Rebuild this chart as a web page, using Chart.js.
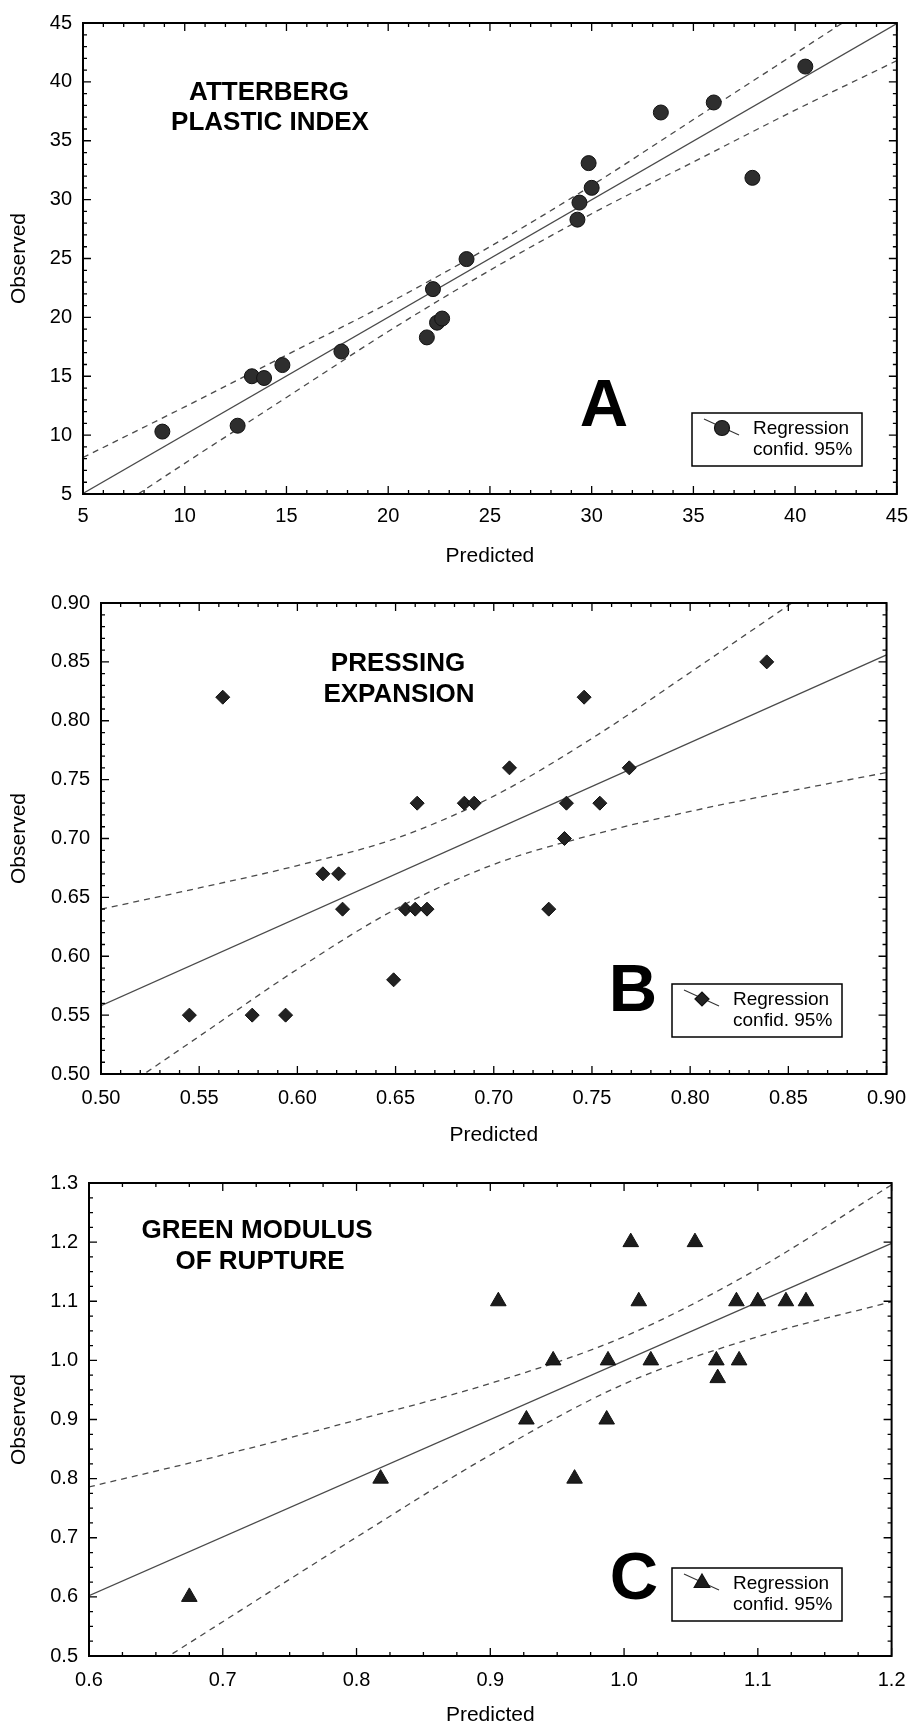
<!DOCTYPE html>
<html>
<head>
<meta charset="utf-8">
<script src="https://cdn.jsdelivr.net/npm/chart.js@4/dist/chart.umd.min.js"></script>
<style>
  body { margin: 0; background: #fff; width: 918px; height: 1728px; position: relative; overflow: hidden; }
  canvas { position: absolute; left: 0; }
</style>
</head>
<body>
<canvas id="chartA" width="918" height="575" style="top:0px"></canvas>
<canvas id="chartB" width="918" height="575" style="top:580px"></canvas>
<canvas id="chartC" width="918" height="568" style="top:1160px"></canvas>
<script>
// A: atterberg plastic index
var atterPred = [8.9, 12.6, 13.3, 13.9, 14.8, 17.7, 21.9, 22.2, 22.4, 22.65, 23.85, 29.3, 29.4, 29.85, 30.0, 33.4, 36.0, 37.9, 40.5];
var atterObs  = [10.3, 10.8, 15.0, 14.85, 15.95, 17.1, 18.3, 22.4, 19.55, 19.9, 24.95, 28.3, 29.75, 33.1, 31.0, 37.4, 38.25, 31.85, 41.3];
var atterFitX = [5, 45];
var atterFitY = [5.05, 44.95];
var atterBandX = [5, 10, 15, 20, 25, 30, 35, 40, 45];
var atterUpper = [8.1, 12.4, 16.8, 21.2, 26.0, 31.2, 36.8, 42.4, 48.0];
var atterLower = [1.9, 7.6, 13.2, 18.8, 24.0, 28.8, 33.2, 37.6, 41.8];
var atterTitle = ['ATTERBERG', 'PLASTIC INDEX'];

// B: pressing expansion
var pressPred = [0.545, 0.562, 0.577, 0.594, 0.613, 0.621, 0.623, 0.649, 0.655, 0.660, 0.661, 0.666, 0.685, 0.690, 0.708, 0.728, 0.736, 0.737, 0.746, 0.754, 0.769, 0.839];
var pressObs  = [0.55, 0.82, 0.55, 0.55, 0.67, 0.67, 0.64, 0.58, 0.64, 0.64, 0.73, 0.64, 0.73, 0.73, 0.76, 0.64, 0.70, 0.73, 0.82, 0.73, 0.76, 0.85];
var pressFitX = [0.50, 0.90];
var pressFitY = [0.558, 0.856];
var pressBandX = [0.50, 0.55, 0.60, 0.65, 0.70, 0.75, 0.80, 0.85, 0.90];
var pressUpper = [0.640, 0.658, 0.677, 0.700, 0.736, 0.785, 0.841, 0.898, 0.956];
var pressLower = [0.475, 0.532, 0.589, 0.640, 0.678, 0.703, 0.723, 0.740, 0.756];
var pressTitle = ['PRESSING', 'EXPANSION'];

// C: green modulus of rupture
var greenPred = [0.675, 0.818, 0.906, 0.927, 0.947, 0.963, 0.987, 0.988, 1.005, 1.011, 1.020, 1.053, 1.069, 1.070, 1.084, 1.086, 1.100, 1.121, 1.136];
var greenObs  = [0.60, 0.80, 1.10, 0.90, 1.00, 0.80, 0.90, 1.00, 1.20, 1.10, 1.00, 1.20, 1.00, 0.97, 1.10, 1.00, 1.10, 1.10, 1.10];
var greenFitX = [0.6, 1.2];
var greenFitY = [0.602, 1.198];
var greenBandX = [0.6, 0.7, 0.8, 0.9, 1.0, 1.1, 1.2];
var greenUpper = [0.786, 0.840, 0.899, 0.961, 1.040, 1.155, 1.297];
var greenLower = [0.414, 0.558, 0.701, 0.840, 0.960, 1.040, 1.099];
var greenTitle = ['GREEN MODULUS', 'OF RUPTURE'];

var legendText = ['Regression', 'confid. 95%'];

Chart.defaults.font.family = '"Liberation Sans", Arial, Helvetica, sans-serif';
Chart.defaults.color = '#000';

function pairs(xs, ys) {
  return xs.map(function (v, i) { return { x: v, y: ys[i] }; });
}

// frame with inward ticks on all four sides + text notes + legend box
var framePlugin = {
  id: 'frame',
  afterDatasetsDraw: function (chart, args, o) {
    var ctx = chart.ctx, a = chart.chartArea, sx = chart.scales.x, sy = chart.scales.y;
    var i, n, every, p, len;
    ctx.save();
    ctx.strokeStyle = '#000';
    ctx.lineWidth = 1.3;
    ctx.beginPath();
    n = Math.round((sx.max - sx.min) / o.xMinor);
    every = Math.round(o.xMajor / o.xMinor);
    for (i = 0; i <= n; i++) {
      p = sx.getPixelForValue(sx.min + i * o.xMinor);
      len = i % every === 0 ? 8 : 4;
      ctx.moveTo(p, a.bottom); ctx.lineTo(p, a.bottom - len);
      ctx.moveTo(p, a.top); ctx.lineTo(p, a.top + len);
    }
    n = Math.round((sy.max - sy.min) / o.yMinor);
    every = Math.round(o.yMajor / o.yMinor);
    for (i = 0; i <= n; i++) {
      p = sy.getPixelForValue(sy.min + i * o.yMinor);
      len = i % every === 0 ? 8 : 4;
      ctx.moveTo(a.left, p); ctx.lineTo(a.left + len, p);
      ctx.moveTo(a.right, p); ctx.lineTo(a.right - len, p);
    }
    ctx.stroke();
    ctx.lineWidth = 2;
    ctx.strokeRect(a.left, a.top, a.width, a.height);

    // title inside plot
    ctx.fillStyle = '#000';
    ctx.textAlign = 'center';
    ctx.textBaseline = 'middle';
    ctx.font = 'bold 26px "Liberation Sans", Arial, sans-serif';
    o.title.forEach(function (t, k) { ctx.fillText(t, o.titlePos[k][0], o.titlePos[k][1]); });

    // panel letter
    ctx.font = 'bold 67px "Liberation Sans", Arial, sans-serif';
    ctx.fillText(o.letter, o.letterPos[0], o.letterPos[1]);

    // legend
    var b = o.legendBox;
    ctx.fillStyle = '#fff';
    ctx.fillRect(b[0], b[1], b[2], b[3]);
    ctx.lineWidth = 1.5;
    ctx.strokeStyle = '#000';
    ctx.strokeRect(b[0], b[1], b[2], b[3]);
    var cx = b[0] + 30, cy = b[1] + 15;
    ctx.strokeStyle = '#333';
    ctx.lineWidth = 1.2;
    ctx.beginPath();
    ctx.moveTo(cx - 18, cy - 9);
    ctx.lineTo(cx + 17, cy + 7);
    ctx.stroke();
    ctx.fillStyle = o.pointColor;
    ctx.strokeStyle = '#111';
    Chart.helpers.drawPoint(ctx, { pointStyle: o.pointStyle, radius: o.pointRadius, borderWidth: 1, rotation: 0 }, cx, cy);
    ctx.fillStyle = '#000';
    ctx.textAlign = 'left';
    ctx.font = '19px "Liberation Sans", Arial, sans-serif';
    ctx.fillText(legendText[0], b[0] + 61, b[1] + 16);
    ctx.fillText(legendText[1], b[0] + 61, b[1] + 37);
    ctx.restore();
  }
};

function makeChart(id, p) {
  var lineStyle = { showLine: true, pointRadius: 0, borderColor: '#4a4a4a', borderWidth: 1.3, fill: false };
  return new Chart(document.getElementById(id), {
    type: 'scatter',
    data: {
      datasets: [
        {
          data: pairs(p.pred, p.obs),
          pointStyle: p.pointStyle,
          pointRadius: p.pointRadius,
          backgroundColor: p.pointColor,
          borderColor: '#111',
          borderWidth: 1,
          order: 0
        },
        Object.assign({ data: pairs(p.fitX, p.fitY), order: 1 }, lineStyle),
        Object.assign({ data: pairs(p.bandX, p.upper), borderDash: [6, 5], cubicInterpolationMode: 'monotone', order: 2 }, lineStyle),
        Object.assign({ data: pairs(p.bandX, p.lower), borderDash: [6, 5], cubicInterpolationMode: 'monotone', order: 3 }, lineStyle)
      ]
    },
    options: {
      responsive: false,
      animation: false,
      devicePixelRatio: 1,
      layout: { padding: { top: p.padTop, right: p.padRight, bottom: 0, left: 0 } },
      plugins: {
        legend: { display: false },
        tooltip: { enabled: false },
        frame: {
          xMajor: p.xStep, xMinor: p.xMinor, yMajor: p.yStep, yMinor: p.yMinor,
          title: p.title, titlePos: p.titlePos, letter: p.letter, letterPos: p.letterPos,
          legendBox: p.legendBox, pointStyle: p.pointStyle, pointRadius: p.pointRadius, pointColor: p.pointColor
        }
      },
      scales: {
        x: {
          type: 'linear', min: p.xMin, max: p.xMax,
          grid: { display: false, drawTicks: false },
          border: { display: false },
          ticks: {
            stepSize: p.xStep, padding: p.xTickPad, maxRotation: 0, autoSkip: false,
            font: { size: 20 },
            callback: function (v) { return Number(v).toFixed(p.xDec); }
          },
          title: { display: true, text: 'Predicted', font: { size: 21 }, padding: { top: 0, bottom: p.xTitlePad } },
          afterFit: function (s) { s.height = p.xAxisH; }
        },
        y: {
          type: 'linear', min: p.yMin, max: p.yMax,
          grid: { display: false, drawTicks: false },
          border: { display: false },
          ticks: {
            stepSize: p.yStep, padding: 11, autoSkip: false,
            font: { size: 20 },
            callback: function (v) { return Number(v).toFixed(p.yDec); }
          },
          title: { display: true, text: 'Observed', font: { size: 21 }, padding: { top: 7, bottom: 0 } },
          afterFit: function (s) { s.width = p.yAxisW; }
        }
      }
    },
    plugins: [framePlugin]
  });
}

makeChart('chartA', {
  pred: atterPred, obs: atterObs, fitX: atterFitX, fitY: atterFitY,
  bandX: atterBandX, upper: atterUpper, lower: atterLower,
  pointStyle: 'circle', pointRadius: 7.5, pointColor: '#2e2e2e',
  xMin: 5, xMax: 45, xStep: 5, xMinor: 1, xDec: 0,
  yMin: 5, yMax: 45, yStep: 5, yMinor: 1, yDec: 0,
  padTop: 19, padRight: 16, yAxisW: 83, xAxisH: 81, xTickPad: 10, xTitlePad: 6.4,
  title: atterTitle, titlePos: [[269, 93], [270, 123]],
  letter: 'A', letterPos: [604, 408],
  legendBox: [692, 413, 170, 53]
});

makeChart('chartB', {
  pred: pressPred, obs: pressObs, fitX: pressFitX, fitY: pressFitY,
  bandX: pressBandX, upper: pressUpper, lower: pressLower,
  pointStyle: 'rectRot', pointRadius: 7, pointColor: '#222',
  xMin: 0.5, xMax: 0.9, xStep: 0.05, xMinor: 0.01, xDec: 2,
  yMin: 0.5, yMax: 0.9, yStep: 0.05, yMinor: 0.01, yDec: 2,
  padTop: 20, padRight: 26, yAxisW: 101, xAxisH: 81, xTickPad: 12, xTitlePad: 7,
  title: pressTitle, titlePos: [[398, 84], [399, 115]],
  letter: 'B', letterPos: [633, 413],
  legendBox: [672, 404, 170, 53]
});

makeChart('chartC', {
  pred: greenPred, obs: greenObs, fitX: greenFitX, fitY: greenFitY,
  bandX: greenBandX, upper: greenUpper, lower: greenLower,
  pointStyle: 'triangle', pointRadius: 9, pointColor: '#1c1c1c',
  xMin: 0.6, xMax: 1.2, xStep: 0.1, xMinor: 0.025, xDec: 1,
  yMin: 0.5, yMax: 1.3, yStep: 0.1, yMinor: 0.025, yDec: 1,
  padTop: 21, padRight: 20, yAxisW: 89, xAxisH: 72, xTickPad: 12.5, xTitlePad: 0,
  title: greenTitle, titlePos: [[257, 71], [260, 102]],
  letter: 'C', letterPos: [634, 421],
  legendBox: [672, 408, 170, 53]
});
</script>
</body>
</html>
